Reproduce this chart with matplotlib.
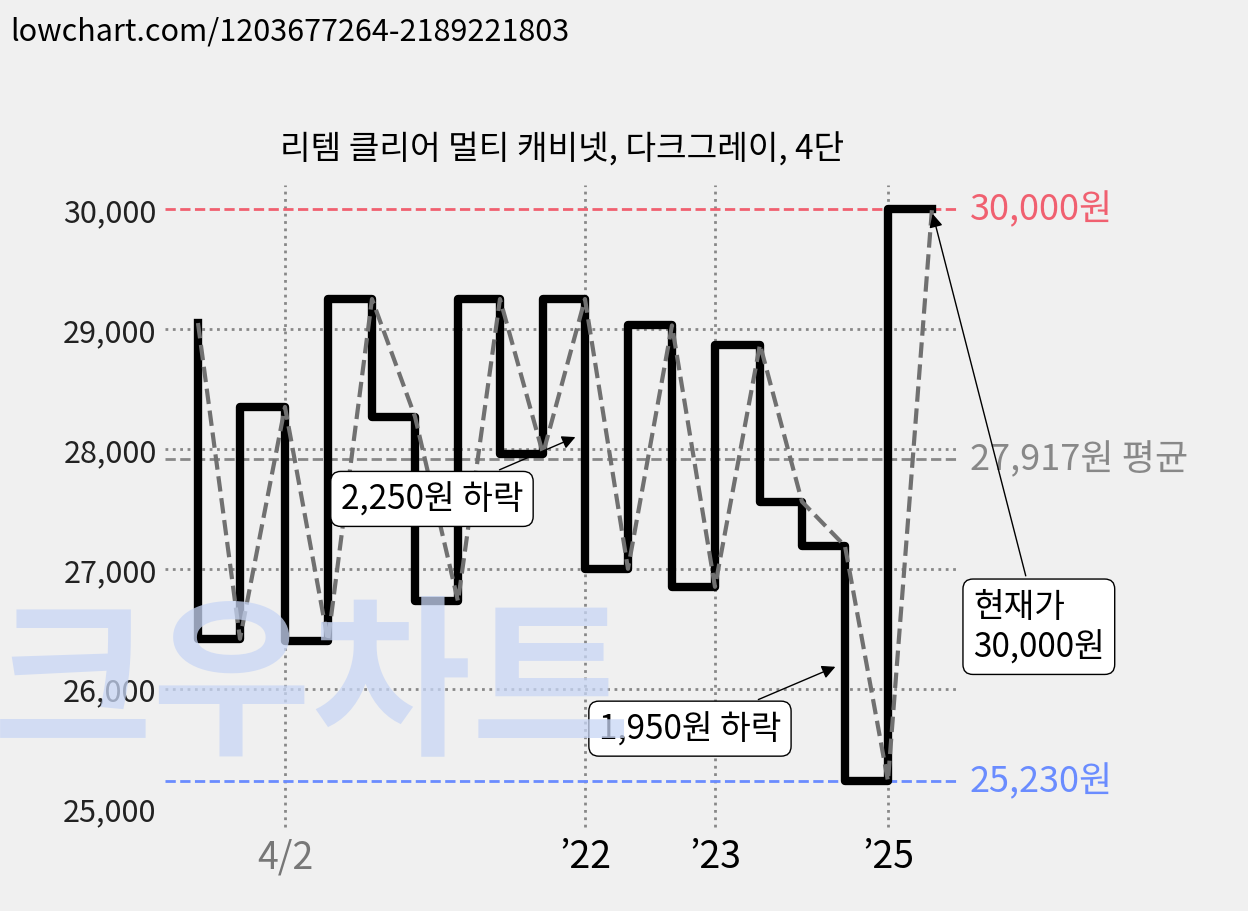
import matplotlib
matplotlib.use("Agg")
import matplotlib.pyplot as plt

plt.rcParams['font.family'] = ['Noto Sans CJK KR', 'DejaVu Sans']

t = [0, 42, 87, 130, 174, 217, 260, 302, 345, 387, 430, 474, 517, 562, 604, 647, 690, 734]
v = [29050, 26417, 28350, 26400, 29250, 28270, 26730, 29250, 27960, 29250, 27000,
     29030, 26850, 28870, 27560, 27190, 25230, 30000]
tick_pos = [87, 387, 517, 690]
tick_lab = ["4/2", "’22", "’23", "’25"]
tick_col = ["#777777", "black", "black", "black"]
yticks = [25000, 26000, 27000, 28000, 29000, 30000]
vmax, vmin, vavg = 30000, 25230, 27917

fig = plt.figure(figsize=(12.48, 9.12), dpi=100, facecolor="#f0f0f0")
ax = fig.add_axes([0.1322, 0.0899, 0.637, 0.706])
ax.set_facecolor("#f0f0f0")
ax.set_xlim(-33, 762)
ax.set_ylim(24830, 30200)
for s in ax.spines.values():
    s.set_visible(False)

for y in [26000, 27000, 28000, 29000]:
    ax.axhline(y, color="#888888", ls=":", lw=2, zorder=1)
for x in tick_pos:
    ax.plot([x, x], [24850, 30200], color="#888888", ls=":", lw=2, zorder=1)

ax.axhline(vmax, color="#f06070", ls="--", lw=2, zorder=2)
ax.axhline(vavg, color="#888888", ls="--", lw=2, zorder=2)
ax.axhline(vmin, color="#6a8cff", ls="--", lw=2, zorder=2)

ax.plot(t, v, drawstyle="steps-pre", color="black", lw=6, zorder=3)
ax.plot(t, v, color="#707070", ls="--", lw=3, zorder=4)

ax.set_yticks(yticks)
ax.set_yticklabels([f"{y:,}" for y in yticks], fontsize=22, color="#222222")
ax.set_xticks(tick_pos)
ax.set_xticklabels(tick_lab, fontsize=27)
for lab, c in zip(ax.get_xticklabels(), tick_col):
    lab.set_color(c)
ax.tick_params(length=0, pad=6)

ax.text(772, vmax, f"{vmax:,}원", color="#f06070", fontsize=26, va="center")
ax.text(772, vavg, f"{vavg:,}원 평균", color="#888888", fontsize=26, va="center")
ax.text(772, vmin, f"{vmin:,}원", color="#6a8cff", fontsize=26, va="center")

box = dict(boxstyle="round,pad=0.3", fc="white", ec="black", lw=1)
ap = dict(arrowstyle="-|>", color="black", lw=1, mutation_scale=20)
ax.annotate("2,250원 하락", xy=(380, 28108), xytext=(234, 27583), fontsize=24,
            ha="center", va="center", bbox=box, arrowprops=ap, zorder=6)
ax.annotate("1,950원 하락", xy=(640, 26192), xytext=(492, 25667), fontsize=24,
            ha="center", va="center", bbox=box, arrowprops=ap, zorder=6)
ax.annotate("현재가\n30,000원", xy=(734, 29983), xytext=(852, 26517), fontsize=24,
            ha="left", va="center", bbox=box, arrowprops=ap, zorder=6,
            annotation_clip=False, position=(775, 26517))

fig.text(0.008, 0.982, "lowchart.com/1203677264-2189221803", fontsize=22, va="top")
fig.text(0.45, 0.835, "리템 클리어 멀티 캐비넷, 다크그레이, 4단", fontsize=24, ha="center", va="center")
fig.text(0.25, 0.245, "크우차트", fontsize=125, ha="center", va="center", color="#c8d6f5",
         alpha=0.75, fontweight="bold", style="italic", zorder=0)

fig.savefig("out.png", dpi=100, facecolor=fig.get_facecolor())
